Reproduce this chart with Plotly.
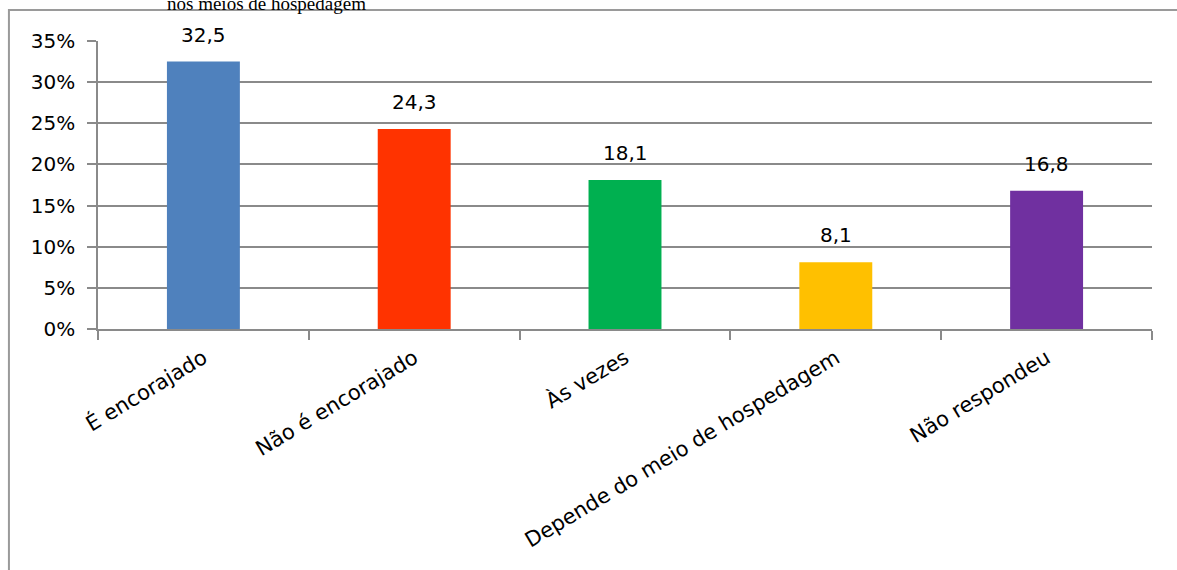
import plotly.graph_objects as go

categories = ["É encorajado", "Não é encorajado", "Às vezes", "Depende do meio de hospedagem", "Não respondeu"]
values = [32.5, 24.3, 18.1, 8.1, 16.8]
value_labels = ["32,5", "24,3", "18,1", "8,1", "16,8"]
colors = ["#4F81BD", "#FF3300", "#00B050", "#FFC000", "#7030A0"]
y_ticks = [0, 5, 10, 15, 20, 25, 30, 35]
y_tick_labels = ["0%", "5%", "10%", "15%", "20%", "25%", "30%", "35%"]
heading = "nos meios de hospedagem"

FONT = "DejaVu Sans"
GRID = "#8a8a8a"

fig = go.Figure()
fig.add_trace(go.Bar(
    x=categories, y=values, marker=dict(color=colors, line=dict(width=0)),
    width=0.346, showlegend=False, hoverinfo="skip",
))

for c, v, t in zip(categories, values, value_labels):
    fig.add_annotation(x=c, y=v, text=t, showarrow=False, xref="x", yref="y",
                       yanchor="bottom", yshift=13,
                       font=dict(family=FONT, size=20, color="black"))

fig.add_annotation(x=0.0636, y=1.087, xref="paper", yref="paper", text=heading,
                   showarrow=False, xanchor="left", yanchor="bottom",
                   font=dict(family="Liberation Serif", size=19, color="black"))

# chart border
fig.add_shape(type="rect", xref="paper", yref="paper",
              x0=-0.0845, x1=1.05, y0=-0.9, y1=1.1076,
              line=dict(color="#9a9a9a", width=2), fillcolor="rgba(0,0,0,0)", layer="below")

fig.update_layout(
    width=1177, height=570,
    margin=dict(l=98, r=25, t=41, b=241),
    paper_bgcolor="white", plot_bgcolor="white",
    font=dict(family=FONT, size=20, color="black"),
    xaxis=dict(
        type="category", tickangle=-31, tickson="boundaries",
        ticks="outside", ticklen=9, tickcolor=GRID, tickwidth=1.5,
        showline=True, linecolor=GRID, linewidth=1.5,
        showgrid=False, tickfont=dict(family=FONT, size=21, color="black"),
        ticklabelstandoff=7,
        range=[-0.5, 4.5],
    ),
    yaxis=dict(
        range=[0, 35], tickvals=y_ticks, ticktext=y_tick_labels,
        ticks="outside", ticklen=9, tickcolor=GRID, tickwidth=1.5,
        showline=True, linecolor=GRID, linewidth=1.5,
        showgrid=True, gridcolor=GRID, gridwidth=1.5, zeroline=False,
        ticklabelstandoff=8,
        tickfont=dict(family=FONT, size=20, color="black"),
    ),
)

fig.write_html("out.html", config={"displayModeBar": False},
               post_script="document.body.style.margin='0';")
